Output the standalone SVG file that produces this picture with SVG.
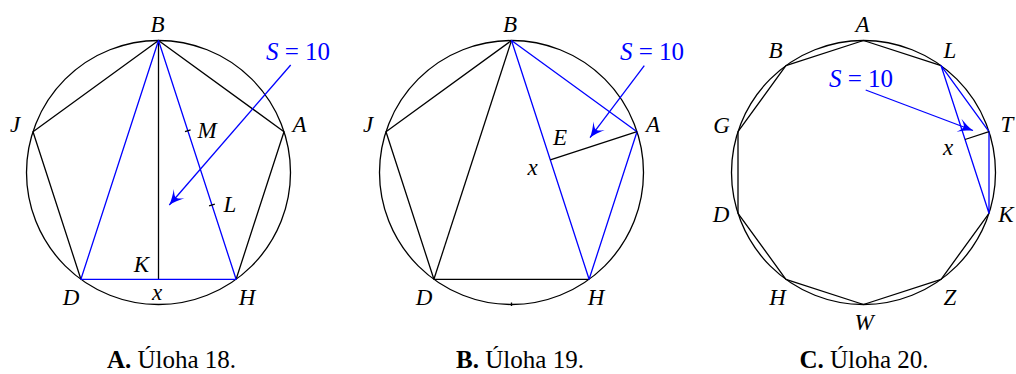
<svg xmlns="http://www.w3.org/2000/svg" width="1016" height="374" viewBox="0 0 1016 374">
<defs>
<marker id="ah" markerUnits="userSpaceOnUse" orient="auto" refX="0" refY="0" markerWidth="30" markerHeight="30" overflow="visible">
<path d="M0,0 C-5,-1.5 -10,-4 -15,-7 C-11,-3 -10,-1.5 -10,0 C-10,1.5 -11,3 -15,7 C-10,4 -5,1.5 0,0 Z" fill="#0000ff"/>
</marker>
</defs>
<g id="figA">
<g fill="none" stroke-width="1.3" stroke-linejoin="round">
<circle stroke="#000" cx="158.5" cy="172.5" r="132"/>
<polyline stroke="#000" points="80.9,279.3 33,131.7 158.5,40.5 284,131.7 236.1,279.3"/>
<line stroke="#000" x1="158.5" y1="40.5" x2="158.5" y2="279.3"/>
<polygon stroke="#0000ff" points="158.5,40.5 236.1,279.3 80.9,279.3"/>
<line stroke="#000" x1="185" y1="131.6" x2="190.6" y2="129.8"/>
<line stroke="#000" x1="209.1" y1="205.9" x2="214.8" y2="204.1"/>
<g id="arrowA"><line stroke="#0000ff" marker-end="url(#ah)" x1="290.7" y1="65" x2="169.3" y2="205"/></g>
</g>
<g font-family="Liberation Serif" font-size="23" font-style="italic" text-anchor="middle" fill="#000">
<text x="157.5" y="32">B</text>
<text x="15" y="132">J</text>
<text x="299.5" y="132">A</text>
<text x="207" y="138">M</text>
<text x="230" y="212">L</text>
<text x="141.5" y="272">K</text>
<text x="71" y="305">D</text>
<text x="157" y="300">x</text>
<text x="247" y="305">H</text>
</g>
<text font-family="Liberation Serif" font-size="25" fill="#0000ff" x="266" y="60"><tspan font-style="italic">S</tspan> = 10</text>
<text font-family="Liberation Serif" font-size="25" fill="#000" text-anchor="middle" x="171.5" y="368"><tspan font-weight="bold">A.</tspan> Úloha 18.</text>
</g>

<g id="figB">
<g fill="none" stroke-width="1.3" stroke-linejoin="round">
<circle stroke="#000" cx="511.5" cy="172.5" r="132"/>
<polyline stroke="#000" points="511.5,40.5 386,131.7 433.9,279.3 589.1,279.3"/>
<line stroke="#000" x1="511.5" y1="40.5" x2="433.9" y2="279.3"/>
<polygon stroke="#0000ff" points="511.5,40.5 637,131.7 589.1,279.3"/>
<line stroke="#000" x1="637" y1="131.7" x2="550.3" y2="159.9"/>
<line stroke="#000" x1="511.5" y1="302.5" x2="511.5" y2="306"/>
<g id="arrowB"><line stroke="#0000ff" marker-end="url(#ah)" x1="644.3" y1="65.7" x2="590" y2="137.7"/></g>
</g>
<g font-family="Liberation Serif" font-size="23" font-style="italic" text-anchor="middle" fill="#000">
<text x="510" y="32">B</text>
<text x="368" y="132">J</text>
<text x="653" y="132">A</text>
<text x="560" y="145">E</text>
<text x="532.5" y="175">x</text>
<text x="424" y="305">D</text>
<text x="596" y="305">H</text>
</g>
<text font-family="Liberation Serif" font-size="25" fill="#0000ff" x="620" y="60"><tspan font-style="italic">S</tspan> = 10</text>
<text font-family="Liberation Serif" font-size="25" fill="#000" text-anchor="middle" x="520" y="368"><tspan font-weight="bold">B.</tspan> Úloha 19.</text>
</g>

<g id="figC">
<g fill="none" stroke-width="1.3" stroke-linejoin="round">
<circle stroke="#000" cx="863.5" cy="172.5" r="132"/>
<polyline stroke="#000" points="941.1,65.7 863.5,40.5 785.9,65.7 738,131.7 738,213.3 785.9,279.3 863.5,304.5 941.1,279.3 989,213.3"/>
<polygon stroke="#0000ff" points="941.1,65.7 989,131.7 989,213.3"/>
<line stroke="#000" x1="989" y1="131.7" x2="965" y2="139.5"/>
<g id="arrowC"><line stroke="#0000ff" marker-end="url(#ah)" x1="865.7" y1="90" x2="973" y2="130.5"/></g>
</g>
<g font-family="Liberation Serif" font-size="23" font-style="italic" text-anchor="middle" fill="#000">
<text x="862.5" y="32">A</text>
<text x="775.5" y="58">B</text>
<text x="950" y="58">L</text>
<text x="721.5" y="132.5">G</text>
<text x="1007" y="132">T</text>
<text x="948" y="155">x</text>
<text x="721" y="222">D</text>
<text x="1006" y="222">K</text>
<text x="777.5" y="305">H</text>
<text x="950" y="305">Z</text>
<text x="864" y="330">W</text>
</g>
<text font-family="Liberation Serif" font-size="25" fill="#0000ff" x="829" y="87"><tspan font-style="italic">S</tspan> = 10</text>
<text font-family="Liberation Serif" font-size="25" fill="#000" text-anchor="middle" x="864" y="368"><tspan font-weight="bold">C.</tspan> Úloha 20.</text>
</g>
</svg>
